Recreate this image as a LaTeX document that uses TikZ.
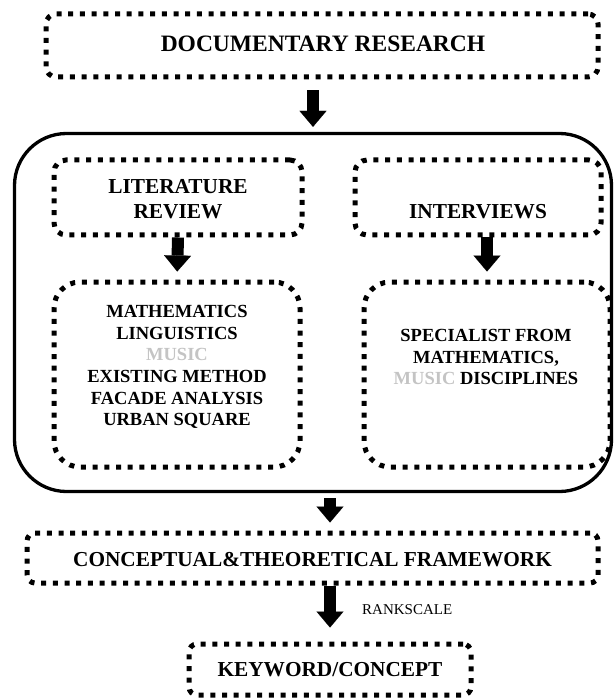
\documentclass[tikz,border=0pt]{standalone}
\usepackage{fontspec}
\setmainfont{Liberation Serif}
\usetikzlibrary{arrows.meta}
\definecolor{musicgray}{RGB}{196,196,196}
\begin{document}
\begin{tikzpicture}[x=1pt,y=-1pt,
  dotbox/.style={draw, line width=5pt, dash pattern=on 5pt off 6.7pt, rectangle, inner sep=0pt},
  outerbox/.style={draw, line width=3.3pt, rectangle, rounded corners=52pt, inner sep=0pt},
  bigtitle/.style={font=\fontsize{23.5}{27}\selectfont\bfseries, inner sep=0pt},
  title/.style={font=\fontsize{21.3}{25}\selectfont\bfseries, align=center, inner sep=0pt},
  list/.style={font=\fontsize{18.5}{21.6}\selectfont\bfseries, align=center, inner sep=0pt},
  note/.style={font=\fontsize{15}{18}\selectfont, inner sep=0pt},
  blockarrow/.style={line width=12pt, -{Triangle[width=27pt,length=16pt,line width=0.1pt]}},
]
\useasboundingbox (0,0) rectangle (614,700);

% frame around the two research strands
\node[outerbox, minimum width=597pt, minimum height=358pt] (outer) at (313,312.5) {};

% dotted boxes
\node[dotbox, rounded corners=10pt, minimum width=552pt, minimum height=63pt] (doc) at (322,45.5) {};
\node[dotbox, rounded corners=12pt, minimum width=248pt, minimum height=75pt] (litA) at (178,197.5) {};
\node[dotbox, rounded corners=12pt, minimum width=246pt, minimum height=75pt] (intA) at (478,197.5) {};
\node[dotbox, rounded corners=26pt, minimum width=246pt, minimum height=185pt] (litB) at (177,374.5) {};
\node[dotbox, rounded corners=26pt, minimum width=246pt, minimum height=185pt] (intB) at (487,374.5) {};
\node[dotbox, rounded corners=8pt, minimum width=571pt, minimum height=50pt] (concept) at (312.5,558) {};
\node[dotbox, rounded corners=8pt, minimum width=282pt, minimum height=51pt] (keyword) at (330,669.5) {};

% texts
\node[bigtitle] (doctext) at (323,44) {DOCUMENTARY RESEARCH};
\node[title] (littext) at (178,199.5) {LITERATURE\\REVIEW};
\node[title] (inttext) at (478,212) {INTERVIEWS};
\node[list] (littopics) at (177,367) {MATHEMATICS\\LINGUISTICS\\\textcolor{musicgray}{MUSIC}\\EXISTING METHOD\\FACADE ANALYSIS\\URBAN SQUARE};
\node[list] (intpeople) at (486,357) {SPECIALIST FROM\\MATHEMATICS,\\\textcolor{musicgray}{MUSIC} DISCIPLINES};
\node[title] (concepttext) at (312.5,560) {CONCEPTUAL\&THEORETICAL FRAMEWORK};
\node[title] (keywordtext) at (330,670) {KEYWORD/CONCEPT};
\node[note, anchor=west] (rank) at (362,610) {RANKSCALE};

% block arrows
\draw[blockarrow, shorten <=11pt, shorten >=5pt] (outer.north |- doc.south) -- (outer.north);
\draw[blockarrow, shorten >=8pt] (litA.south) -- (litB.north);
\draw[blockarrow, shorten >=8pt] (intB.north |- intA.south) -- (intB.north);
\draw[blockarrow, shorten <=5pt, shorten >=8pt] (keyword.north |- outer.south) -- (keyword.north |- concept.north);
\draw[blockarrow, shorten >=14pt] (concept.south -| keyword.north) -- (keyword.north);
\end{tikzpicture}
\end{document}
